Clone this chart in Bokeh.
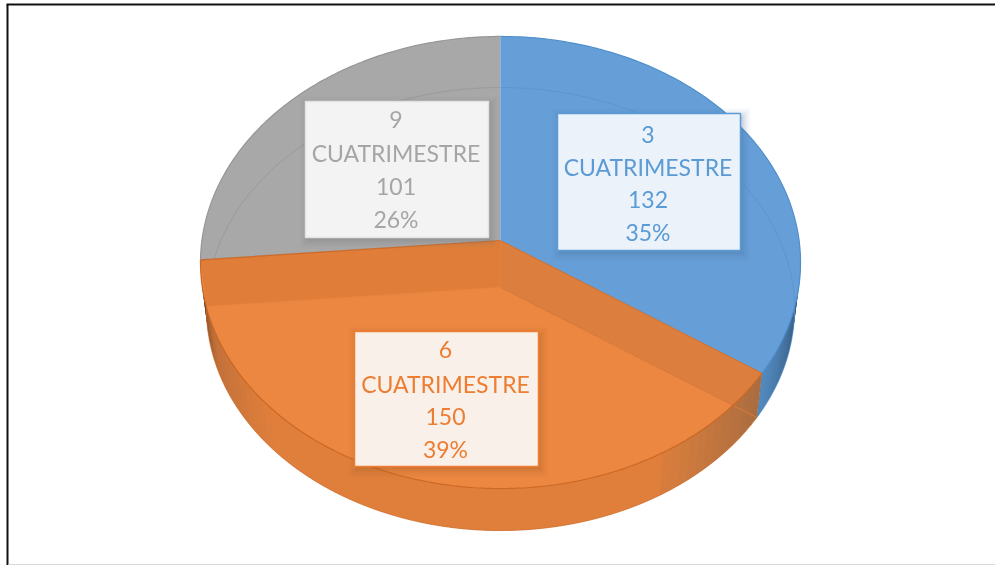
import numpy as np
from bokeh.plotting import figure
from bokeh.embed import file_html
from bokeh.resources import INLINE
from bokeh.core.properties import value

categories = ["3", "6", "9"]
series_name = "CUATRIMESTRE"
counts = [132, 150, 101]
percent_labels = ["35%", "39%", "26%"]

face = ["#669FD7", "#EC8741", "#A8A8A8"]
edge = ["#4F8FCC", "#C8641E", "#969696"]
ink = ["#5B9BD5", "#ED7D31", "#A5A5A5"]
box_fill = ["#ECF2FA", "#FAF0EA", "#F3F3F3"]
box_line = ["#5B9BD5", "#ED7D31", "#E2E2E2"]
box_xy = [(557, 113, 740, 250), (354, 331, 538, 466), (305, 101, 488, 237)]
text_ys = [(134, 166, 199, 231), (349, 383, 416, 448), (119, 152, 186, 218)]

CX, TOP_CY, FLOOR_CY, FLOOR_K = 500.0, 240.0, 287.0, 0.98
A, B, C = 0.0973, 223.9, 298.6


def project(theta_deg, cy=TOP_CY, k=1.0):
    t = np.radians(np.asarray(theta_deg, dtype=float))
    u, v = np.sin(t), np.cos(t)
    w = 1 + A * v
    return CX + k * C * u / w, cy - k * B * v / w


def mix(c1, c2, f):
    a = [int(c1[i:i + 2], 16) for i in (1, 3, 5)]
    b = [int(c2[i:i + 2], 16) for i in (1, 3, 5)]
    return "#%02x%02x%02x" % tuple(int(round(x + (y - x) * f)) for x, y in zip(a, b))


def wall_strip(a, b, col):
    xt, yt = project([a, b])
    xf, yf = project([b, a], cy=FLOOR_CY, k=FLOOR_K)
    p.patch(list(xt) + list(xf), list(yt) + list(yf), fill_color=col, line_color=None)


total = sum(counts)
edges = np.cumsum([0] + counts) / total * 360.0

p = figure(width=995, height=565, x_range=(0, 995), y_range=(565, 0),
           toolbar_location=None, output_backend="svg", min_border=0,
           outline_line_color=None, background_fill_color="white")
p.axis.visible = False
p.grid.visible = False
p.styles = {"position": "fixed", "left": "0px", "top": "0px"}

# frame of the pasted picture
p.line([7, 7], [4, 565], line_color="#111111", line_width=2)
p.line([6, 995], [4, 4], line_color="#111111", line_width=2)
p.line([8, 995], [564, 564], line_color="#D9D9D9", line_width=1)

# side wall, drawn as overlapping strips so no seams show
for th0 in np.arange(88.0, edges[1], 2.0):
    f = (th0 + 1 - 90) / (edges[1] - 90)
    wall_strip(th0, min(th0 + 6.0, edges[1]), mix("#24405E", "#5288BC", min(1, f * 1.05)))
for th0 in np.arange(edges[1], edges[2] + 2, 2.0):
    mid = th0 + 1.0
    if mid < 150:
        col = mix("#A86C40", "#D87E3E", (mid - edges[1]) / (150 - edges[1]))
    elif mid < 225:
        col = "#E07F3C"
    elif mid < 248:
        col = mix("#E07F3C", "#C0703A", (mid - 225) / 23)
    else:
        col = mix("#C0703A", "#5A3A1E", min(1, (mid - 248) / (edges[2] - 248)))
    wall_strip(th0, th0 + 6.0, col)

# top faces
for i in range(3):
    th = np.linspace(edges[i], edges[i + 1], 120)
    x, y = project(th)
    p.patch([CX] + list(x), [TOP_CY] + list(y), fill_color=face[i], line_color=None)

# faint floor rim seen through the gray and blue faces
for i, (a, b) in enumerate([(edges[2], 360.0), (0.0, edges[1])]):
    th = np.linspace(a, b, 120)
    x, y = project(th, cy=FLOOR_CY, k=FLOOR_K)
    p.line(x, y, line_color=edge[2] if i == 0 else "#5A93CC", line_width=1, line_alpha=0.75)

# the two walls seen through the orange face
scan = np.linspace(edges[1], edges[1] + 40, 400)
sx, sy = project(scan)
fx, fy = project(edges[1], cy=FLOOR_CY, k=FLOOR_K)
side = (sx - CX) * (fy - FLOOR_CY) - (sy - FLOOR_CY) * (fx - CX)
cut = scan[np.argmin(np.abs(side))]
th = np.linspace(edges[1], cut, 40)
rx, ry = project(th)
p.patch([CX] + list(rx) + [CX], [TOP_CY] + list(ry) + [FLOOR_CY], fill_color="#DC7E3E", line_color=None)

lx, ly = project(edges[2])
lfx, lfy = project(edges[2], cy=FLOOR_CY, k=FLOOR_K)
p.patch([CX, lx, lfx, CX], [TOP_CY, ly, lfy, FLOOR_CY], fill_color="#E07D38", line_color=None)

# edges of the orange slice
p.line([CX, fx], [FLOOR_CY, fy], line_color="#D9793A", line_width=1)
p.line([CX, lfx], [FLOOR_CY, lfy], line_color="#E8853F", line_width=1)
x, y = project(np.linspace(edges[1], edges[2], 200))
p.line(x, y, line_color=edge[1], line_width=1.2, line_alpha=0.85)
p.line([CX, lx], [TOP_CY, ly], line_color=edge[1], line_width=1.2, line_alpha=0.85)
p.line([CX, project(edges[1])[0]], [TOP_CY, project(edges[1])[1]], line_color=edge[1], line_width=1, line_alpha=0.7)

# outer rim of blue and gray
x, y = project(np.linspace(0, edges[1], 120))
p.line(x, y, line_color=edge[0], line_width=1.2)
x, y = project(np.linspace(edges[2], 360, 120))
p.line(x, y, line_color=edge[2], line_width=1.2)
p.line([CX, CX], [project(0.0)[1], TOP_CY], line_color="#8FB4DA", line_width=1)

# outer bottom rim of the wall
x, y = project(np.linspace(edges[1], edges[2], 200), cy=FLOOR_CY, k=FLOOR_K)
p.line(x, y, line_color="#D0702E", line_width=1, line_alpha=0.8)

# data labels with soft shadows
for i in range(3):
    x0, y0, x1, y1 = box_xy[i]
    shadow = mix(face[i], "#000000", 0.3)
    for grow, alpha in ((8, 0.04), (6, 0.05), (4, 0.07), (2, 0.09), (0, 0.12)):
        p.quad(left=x0 - grow + 2, right=x1 + grow + 2, top=y0 - grow + 3, bottom=y1 + grow + 3,
               fill_color=shadow, fill_alpha=alpha, line_color=None)
    p.quad(left=x0, right=x1, top=y0, bottom=y1, fill_color=box_fill[i],
           line_color=box_line[i], line_width=1.5)
    lines = [categories[i], series_name, str(counts[i]), percent_labels[i]]
    p.text(x=[(x0 + x1) / 2 - 1] * 4, y=list(text_ys[i]), text=lines,
           text_font=value("Lato"), text_font_size="23px", text_color=ink[i],
           text_align="center", text_baseline="middle")

open("out.html", "w").write(file_html(p, INLINE))
